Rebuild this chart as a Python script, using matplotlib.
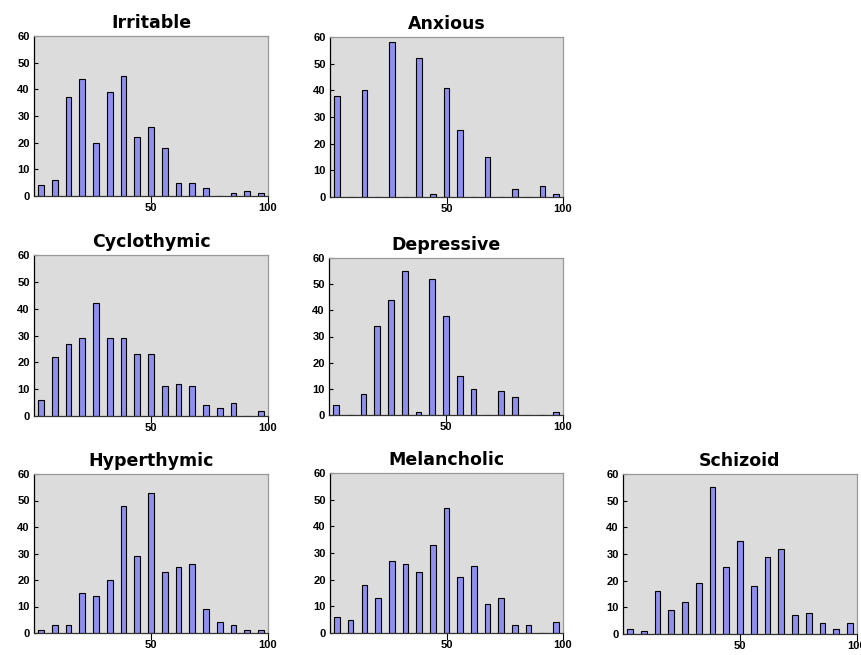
import numpy as np
import matplotlib
matplotlib.use("Agg")
import matplotlib.pyplot as plt

# counts per score bin (17 bins across 0-100)
irritable = [4, 6, 37, 44, 20, 39, 45, 22, 26, 18, 5, 5, 3, 0, 1, 2, 1]
anxious = [38, 0, 40, 0, 58, 0, 52, 1, 41, 25, 0, 15, 0, 3, 0, 4, 1]
cyclothymic = [6, 22, 27, 29, 42, 29, 29, 23, 23, 11, 12, 11, 4, 3, 5, 0, 2]
depressive = [4, 0, 8, 34, 44, 55, 1, 52, 38, 15, 10, 0, 9, 7, 0, 0, 1]
hyperthymic = [1, 3, 3, 15, 14, 20, 48, 29, 53, 23, 25, 26, 9, 4, 3, 1, 1]
melancholic = [6, 5, 18, 13, 27, 26, 23, 33, 47, 21, 25, 11, 13, 3, 3, 0, 4]
schizoid = [2, 1, 16, 9, 12, 19, 55, 25, 35, 18, 29, 32, 7, 8, 4, 2, 4]

titles = ["Irritable", "Anxious", "Cyclothymic", "Depressive",
          "Hyperthymic", "Melancholic", "Schizoid"]
series = [irritable, anxious, cyclothymic, depressive,
          hyperthymic, melancholic, schizoid]
x_ticks = [50, 100]
y_ticks = [0, 10, 20, 30, 40, 50, 60]

W, H = 862, 655
# axes boxes in pixels: left, top, right, bottom
boxes = [(34, 36, 268, 196), (330, 37, 563, 197),
         (34, 255, 268, 416), (329, 258, 563, 415),
         (34, 474, 268, 633), (330, 473, 563, 633), (623, 474, 857, 634)]

fig = plt.figure(figsize=(W / 100, H / 100), dpi=100)
centers = np.linspace(3, 97, 17)
tick_font = {"family": "Liberation Sans", "weight": "bold", "size": 8}

for title, vals, (l, t, r, b) in zip(titles, series, boxes):
    ax = fig.add_axes([l / W, 1 - b / H, (r - l) / W, (b - t) / H])
    ax.set_facecolor("#dcdcdc")
    ax.bar(centers, vals, width=2.4, color="#8f8ff0", edgecolor="black",
           linewidth=0.8, zorder=2)
    ax.set_xlim(0, 100)
    ax.set_ylim(0, 60)
    ax.set_xticks(x_ticks)
    ax.set_yticks(y_ticks)
    ax.set_xticklabels([str(v) for v in x_ticks], fontdict=tick_font)
    ax.set_yticklabels([str(v) for v in y_ticks], fontdict=tick_font)
    ax.tick_params(axis="y", direction="in", length=3, width=0.8, pad=3)
    ax.tick_params(axis="x", direction="out", length=5, width=0.8, pad=0)
    ax.spines["left"].set_color("black")
    ax.spines["bottom"].set_color("#333333")
    for s in ["top", "right"]:
        ax.spines[s].set_color("#999999")
    for s in ax.spines.values():
        s.set_linewidth(0.9)
    ax.set_title(title, fontsize=12.5, fontweight="bold", pad=6)

fig.savefig("out.png", dpi=100)
